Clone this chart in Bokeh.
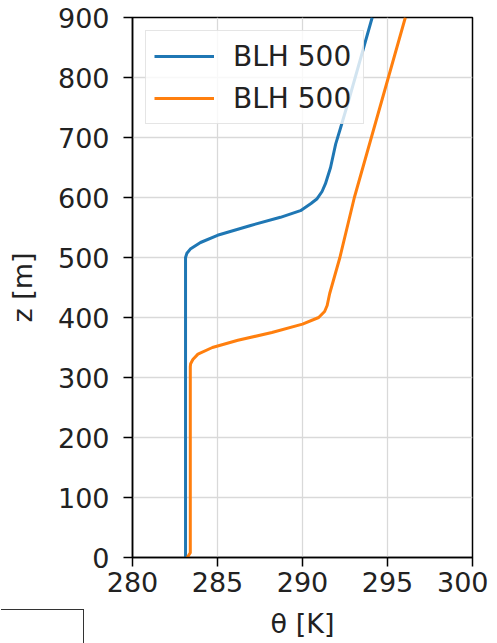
from bokeh.plotting import figure
from bokeh.layouts import column
from bokeh.models import Range1d, FixedTicker, Legend, LegendItem, Div
from bokeh.embed import file_html
from bokeh.resources import INLINE

blue_z = [0, 500, 507, 514, 525, 537, 553, 567, 578, 590, 598, 610, 623, 650, 689, 717,
          762, 830, 900]
blue_theta = [283.12, 283.12, 283.2, 283.4, 284.0, 285.0, 286.9, 288.7, 289.88, 290.5,
              290.86, 291.15, 291.35, 291.65, 291.95, 292.25, 292.72, 293.4, 294.1]
orange_z = [0, 8, 318, 323, 330, 339, 350, 362, 375, 389, 400, 410, 420, 440, 500, 600,
            700, 800, 900]
orange_theta = [283.22, 283.4, 283.4, 283.42, 283.55, 283.85, 284.7, 286.2, 288.2, 290.0,
                290.95, 291.3, 291.45, 291.6, 292.2, 293.05, 294.05, 295.05, 296.05]
labels = ["BLH 500", "BLH 500"]
x_ticks = [280, 285, 290, 295, 300]
y_ticks = [0, 100, 200, 300, 400, 500, 600, 700, 800, 900]

FONT = "DejaVu Sans"

p = figure(width=488, height=641, output_backend="svg", toolbar_location=None,
           x_range=Range1d(280, 300), y_range=Range1d(0, 900),
           min_border_left=132, min_border_right=16, min_border_top=17, min_border_bottom=73,
           sizing_mode="fixed")

r1 = p.line(blue_theta, blue_z, line_color="#1f77b4", line_width=3, line_join="round")
r2 = p.line(orange_theta, orange_z, line_color="#ff7f0e", line_width=3, line_join="round")

p.xaxis.ticker = FixedTicker(ticks=x_ticks)
p.yaxis.ticker = FixedTicker(ticks=y_ticks)
p.xaxis.axis_label = "θ [K]"
p.yaxis.axis_label = "z [m]"

for ax in (p.xaxis, p.yaxis):
    ax.major_label_text_font = FONT
    ax.major_label_text_font_size = "27px"
    ax.major_label_text_color = "#222222"
    ax.axis_label_text_font = FONT
    ax.axis_label_text_font_size = "27px"
    ax.axis_label_text_font_style = "normal"
    ax.axis_label_text_color = "#222222"
    ax.axis_line_color = "black"
    ax.axis_line_width = 1.5
    ax.major_tick_line_color = "black"
    ax.major_tick_line_width = 1.5
    ax.major_tick_out = 9
    ax.major_tick_in = 0
    ax.minor_tick_line_color = None

p.xaxis.major_label_standoff = 5
p.yaxis.major_label_standoff = 14
p.xaxis.axis_label_standoff = 13
p.yaxis.axis_label_standoff = 17

p.outline_line_color = "black"
p.outline_line_width = 1.5
p.grid.grid_line_color = "#d9d9d9"
p.grid.grid_line_width = 1.3

legend = Legend(items=[LegendItem(label=labels[0], renderers=[r1]),
                       LegendItem(label=labels[1], renderers=[r2])],
                location="top_left", margin=13, padding=8,
                glyph_width=60, glyph_height=34, label_height=34, label_width=122,
                label_standoff=19, spacing=8,
                label_text_font=FONT, label_text_font_size="28px",
                label_text_color="#222222",
                border_line_color="#cccccc", border_line_width=1.2,
                background_fill_color="white", background_fill_alpha=0.8)
p.add_layout(legend)

box = Div(text="", width=83, height=34, sizing_mode="fixed",
          styles={"position": "absolute", "left": "-4px", "top": "604px",
                  "border-top": "1.5px solid #333333",
                  "border-right": "1.5px solid #333333",
                  "box-sizing": "border-box"})

layout = column(p, box, spacing=0)

open("out.html", "w").write(file_html(layout, INLINE))
